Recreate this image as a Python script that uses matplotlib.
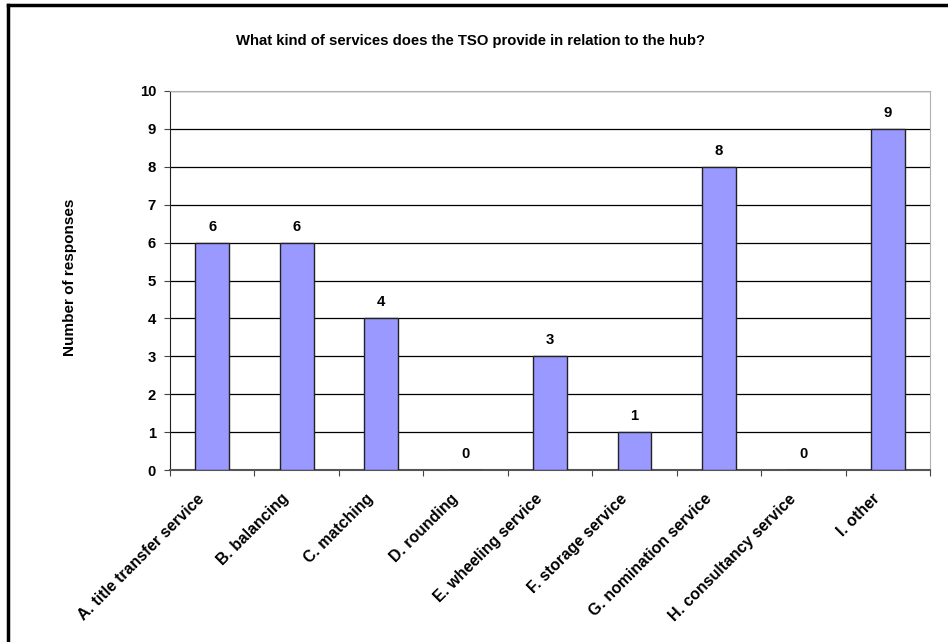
import matplotlib
matplotlib.use("Agg")
import matplotlib.pyplot as plt
from matplotlib.lines import Line2D
from matplotlib.transforms import ScaledTranslation
import numpy as np

plt.rcParams["font.family"] = ["Liberation Sans", "DejaVu Sans"]
plt.rcParams["font.weight"] = "bold"

CATEGORIES = ["A. title transfer service", "B. balancing", "C. matching",
              "D. rounding", "E. wheeling service", "F. storage service",
              "G. nomination service", "H. consultancy service", "I. other"]
RESPONSES = [6, 6, 4, 0, 3, 1, 8, 0, 9]
YTICKS = list(range(0, 11))

BAR_COLOR = "#9999FF"
FS = 10.7

fig = plt.figure(figsize=(9.48, 6.42), dpi=100)
ax = fig.add_axes([170 / 948, 1 - 470 / 642, 760 / 948, 379 / 642])

x = np.arange(len(CATEGORIES))
ax.bar(x, RESPONSES, width=0.4, color=BAR_COLOR, edgecolor="#222222",
       linewidth=1.0, zorder=3)
for xi, v in zip(x, RESPONSES):
    ax.annotate(f"{v}", (xi, v), xytext=(0, 6.5), textcoords="offset points",
                ha="center", va="bottom", fontsize=FS, fontweight="bold")

ax.set_xlim(-0.5, len(CATEGORIES) - 0.5)
ax.set_ylim(0, 10)
ax.set_yticks(YTICKS)
ax.set_yticklabels([str(t) for t in YTICKS], fontsize=FS, fontweight="bold")
ax.yaxis.grid(True, color="black", lw=0.9, zorder=0)

# category ticks sit between bars, labels centred under bars
ax.set_xticks(np.arange(-0.5, len(CATEGORIES), 1.0))
ax.set_xticklabels([])
ax.set_xticks(x, minor=True)
ax.set_xticklabels(CATEGORIES, minor=True, rotation=45, ha="right",
                   va="center", rotation_mode="anchor", fontsize=11.4,
                   fontweight="bold")
ax.tick_params(axis="x", which="minor", length=0, pad=19)
ax.tick_params(axis="x", which="major", direction="out", length=4,
               color="#444444")
ax.tick_params(axis="y", direction="out", length=4, color="#444444", pad=6)

# nudge the slanted labels a little to the left, like Excel does
shift = ScaledTranslation(-0.10, 0, fig.dpi_scale_trans)
for tick in ax.xaxis.get_minor_ticks():
    tick.label1.set_transform(tick.label1.get_transform() + shift)

for side in ("top", "right"):
    ax.spines[side].set_color("#b0b0b0")
ax.spines["left"].set_color("#222222")
ax.spines["bottom"].set_color("#555555")
ax.spines["bottom"].set_linewidth(1.5)

fig.text(70 / 948, 1 - 277 / 642, "Number of responses", rotation=90,
         ha="center", va="center", fontsize=11, fontweight="bold")
fig.text(470 / 948, 1 - 41 / 642,
         "What kind of services does the TSO provide in relation to the hub?",
         ha="center", va="center", fontsize=FS, fontweight="bold")

# chart frame (only top and left edges visible in the crop)
fig.add_artist(Line2D([8 / 948, 8 / 948], [0, 1 - 5 / 642], color="black",
                      lw=2.5, transform=fig.transFigure))
fig.add_artist(Line2D([8 / 948, 1], [1 - 5 / 642, 1 - 5 / 642],
                      color="black", lw=2.5, transform=fig.transFigure))

fig.savefig("out.png", dpi=100)
